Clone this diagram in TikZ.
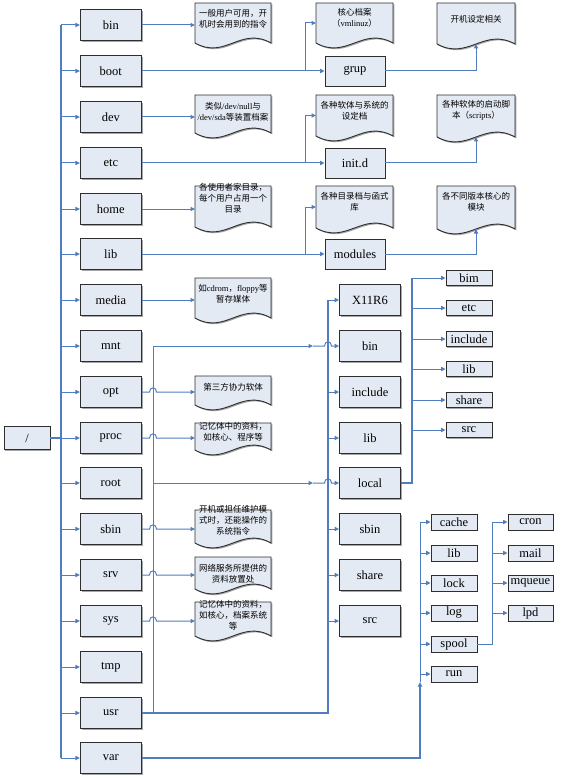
\documentclass[tikz,border=0pt]{standalone}
\usepackage{fontspec}
\setmainfont{Liberation Serif}
\newfontfamily\cjk{Noto Sans CJK SC}
\usetikzlibrary{arrows.meta,shadows,calc}
\definecolor{lineblue}{HTML}{4F7DBF}
\definecolor{boxfill}{HTML}{E4EAF4}
\definecolor{boxdraw}{HTML}{2E2E2E}
\newcommand\zh[1]{{\cjk #1}}
% name, left x, top y, width, H, text centre y, text
\newcommand\docnote[7]{%
  \node[notebg, minimum width=#4, minimum height=#5, anchor=north west] (#1) at (#2,#3) {};
  \draw[notedraw] (#1.north west) -- (#1.north east) -- (#1.south east)
    .. controls ($(#1.south east)!0.4!(#1.south west)+(0,-17)$) and ($(#1.south east)!0.6!(#1.south west)+(0,17)$) .. (#1.south west) -- cycle;
  \node[notetext] at (#2+#4/2,#6) {#7};
}
% start, crossing x coordinate, end, y reference
\newcommand\hopline[4]{%
  \draw[br,arr] (#1) -- ($(#4 -| #2)+(-3.5,0)$) .. controls +(0,-5.5) and +(0,-5.5) .. ($(#4 -| #2)+(3.5,0)$) -- (#3);
}
\begin{document}
\begin{tikzpicture}[x=1pt,y=-1pt,
  arr/.style={-{Triangle[length=4.5pt,width=4.2pt]}},
  br/.style={draw=lineblue, line width=1pt},
  trunkl/.style={draw=lineblue, line width=1.8pt},
  dirbox/.style={draw=boxdraw, line width=0.9pt, fill=boxfill, inner sep=0pt,
    font=\fontsize{12.5}{14}\selectfont,
    drop shadow={shadow xshift=1.3pt, shadow yshift=-1.3pt, opacity=0.35, fill=black}},
  bigbox/.style={dirbox, minimum width=61pt, minimum height=31pt},
  midbox/.style={dirbox, minimum width=60pt, minimum height=30pt},
  smallbox/.style={dirbox, minimum width=46pt, minimum height=15pt},
  varbox/.style={dirbox, minimum width=46pt, minimum height=16pt},
  notebg/.style={inner sep=0pt, outer sep=0pt},
  notedraw/.style={draw=boxdraw, line width=0.9pt, fill=boxfill,
    drop shadow={shadow xshift=1.3pt, shadow yshift=-1.3pt, opacity=0.35, fill=black}},
  notetext/.style={align=center, inner sep=0pt, font=\fontsize{8.5}{11}\selectfont},
]
\fill[white] (0,0) rectangle (569,778);
\useasboundingbox (0,0) rectangle (569,778);

% root
\node[dirbox, minimum width=46pt, minimum height=23pt] (slash) at (27,438) {/};

% level 1
\foreach \n/\y in {bin/25, boot/71, dev/117, etc/163, home/209, lib/254, media/300, mnt/346,
  opt/392, proc/438, root/483, sbin/529, srv/575, sys/621, tmp/667, usr/713, var/758}
  \node[bigbox] (\n) at (110.8,\y) {\n};

% second column boxes
\node[midbox] (grup) at (355,71) {grup};
\node[midbox] (initd) at (355,163) {init.d};
\node[midbox] (modules) at (355,254) {modules};

\foreach \n/\t/\y in {ux11/X11R6/300, ubin/bin/346, uinc/include/392, ulib/lib/438,
  ulocal/local/483, usbin/sbin/529, ushare/share/575, usrc/src/621}
  \node[bigbox] (\n) at (370,\y) {\t};

\foreach \n/\t/\y in {lbim/bim/278, letc/etc/308, linc/include/339, llib/lib/369,
  lshare/share/400, lsrc/src/430}
  \node[smallbox] (\n) at (469,\y) {\t};

\foreach \n/\t/\y in {vcache/cache/522, vlib/lib/553, vlock/lock/583, vlog/log/613,
  vspool/spool/644, vrun/run/674}
  \node[varbox] (\n) at (454,\y) {\t};

\foreach \n/\t/\y in {scron/cron/522, smail/mail/553, smq/mqueue/583, slpd/lpd/613}
  \node[varbox, minimum width=45pt] (\n) at (530.5,\y) {\t};

% notes
\docnote{nbin}{195}{3}{76}{40}{19}{\zh{一般用户可用，开}\\\zh{机时会用到的指令}}
\docnote{ndev}{195}{95}{76}{38}{112}{\zh{类似}/dev/null\zh{与}\\/dev/sda\zh{等装置档案}}
\docnote{nhome}{195}{186}{76}{41}{198}{\zh{各使用者家目录，}\\\zh{每个用户占用一个}\\\zh{目录}}
\docnote{nmedia}{195}{278}{76}{40}{294}{\zh{如}cdrom\zh{，}floppy\zh{等}\\\zh{暂存媒体}}
\docnote{nopt}{195}{376}{76}{29}{387}{\zh{第三方协力软体}}
\docnote{nproc}{195}{423}{76}{27}{432}{\zh{记忆体中的资料，}\\\zh{如核心、程序等}}
\docnote{nsbin}{195}{510}{76}{33}{520}{\zh{开机或担任维护模}\\\zh{式时，还能操作的}\\\zh{系统指令}}
\docnote{nsrv}{195}{557}{76}{32}{574}{\zh{网络服务所提供的}\\\zh{资料放置处}}
\docnote{nsys}{195}{602}{76}{34}{615}{\zh{记忆体中的资料，}\\\zh{如核心，档案系统}\\\zh{等}}

\docnote{nboot}{316}{3}{77}{40}{18}{\zh{核心档案}\\\zh{（}vmlinuz\zh{）}}
\docnote{ngrup}{437}{3}{78}{41}{19}{\zh{开机设定相关}}
\docnote{netc}{316}{95}{77}{41}{111}{\zh{各种软体与系统的}\\\zh{设定档}}
\docnote{ninit}{437}{95}{78}{42}{110}{\zh{各种软体的启动脚}\\\zh{本（}scripts\zh{）}}
\docnote{nlib}{316}{186}{77}{42}{202}{\zh{各种目录档与函式}\\\zh{库}}
\docnote{nmod}{437}{186}{78}{43}{202}{\zh{各不同版本核心的}\\\zh{模块}}

% helper coordinates
\coordinate (tx) at (61,0);
\coordinate (vx) at (153,346);
\coordinate (ua) at (313,0);
\coordinate (ux) at (328,0);
\coordinate (cx) at (305,0);
\coordinate (lx) at (412,0);
\coordinate (vmid) at (420,682);
\coordinate (sx) at (492,0);

% main trunk
\draw[trunkl] (slash.east) -- (slash.east -| tx);
\draw[trunkl] (tx |- bin.west) -- (tx |- var.west);
\foreach \n in {bin,boot,dev,etc,home,lib,media,mnt,opt,proc,root,sbin,srv,sys,tmp,usr,var}
  \draw[br,arr] (tx |- \n.west) -- (\n.west);

% plain notes
\foreach \n in {bin,dev,home,media}
  \draw[br,arr] (\n.east) -- (\n.east -| n\n.west);

% notes with hop over the usr line
\foreach \n in {opt,proc,sbin,srv,sys}
  \hopline{\n.east}{vx}{\n.east -| n\n.west}{\n.east};

% boot / etc / lib
\draw[br] (boot.east) -- (boot.east -| cx);
\draw[br,arr] (boot.east -| cx) -- (grup.west);
\draw[br,arr] (boot.east -| cx) |- (nboot.west);
\draw[br,arr] (grup.east) -| (ngrup.south);

\draw[br] (etc.east) -- (etc.east -| cx);
\draw[br,arr] (etc.east -| cx) -- (initd.west);
\draw[br,arr] (etc.east -| cx) |- (netc.west);
\draw[br,arr] (initd.east) -| (ninit.south);

\draw[br] (lib.east) -- (lib.east -| cx);
\draw[br,arr] (lib.east -| cx) -- (modules.west);
\draw[br,arr] (lib.east -| cx) |- (nlib.west);
\draw[br,arr] (modules.east) -| (nmod.south);

% usr
\draw[trunkl] (usr.east) -| (ux |- ux11.west);
\foreach \n in {ux11,uinc,ulib,usbin,ushare,usrc}
  \draw[br,arr] (ux |- \n.west) -- (\n.west);
\draw[br] (vx) -- (vx |- usr.east);
\draw[br,arr] (vx) -- (vx -| ua);
\hopline{vx -| ua}{ux}{ubin.west}{ubin.west}
\draw[br,arr] (vx |- ulocal.west) -- (ua |- ulocal.west);
\hopline{ua |- ulocal.west}{ux}{ulocal.west}{ulocal.west}

% local
\draw[trunkl] (ulocal.east) -| (lx |- lbim.west);
\foreach \n in {lbim,letc,linc,llib,lshare,lsrc}
  \draw[br,arr] (lx |- \n.west) -- (\n.west);

% var
\draw[trunkl,arr] (var.east) -| (vmid);
\draw[br] (vmid) -- (vmid |- vcache.west);
\foreach \n in {vcache,vlib,vlock,vlog,vspool,vrun}
  \draw[br,arr] (vmid |- \n.west) -- (\n.west);

% spool
\draw[br] (vspool.east) -| (sx |- scron.west);
\foreach \n in {scron,smail,smq,slpd}
  \draw[br,arr] (sx |- \n.west) -- (\n.west);
\end{tikzpicture}
\end{document}
